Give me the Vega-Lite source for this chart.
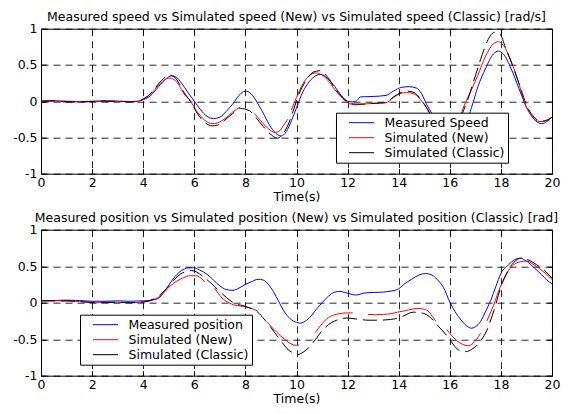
{
  "$schema": "https://vega.github.io/schema/vega-lite/v6.json",
  "padding": {"left": 12, "top": 10.7, "right": 4, "bottom": 2},
  "config": {
    "font": "DejaVu Sans",
    "view": {"stroke": "#000000", "strokeWidth": 1},
    "axis": {
      "grid": true, "gridColor": "#000000", "gridDash": [7, 5], "gridOpacity": 0.85, "gridWidth": 1,
      "domain": false, "ticks": true, "tickColor": "#000000", "tickSize": -5,
      "labelColor": "#000000", "labelFont": "DejaVu Sans", "labelFontSize": 12.5,
      "labelFlush": false, "labelOverlap": false,
      "titleColor": "#000000", "titleFont": "DejaVu Sans", "titleFontSize": 12.5, "titleFontWeight": "normal"
    },
    "axisX": {"labelPadding": 8, "titlePadding": 1},
    "axisY": {"labelPadding": 9},
    "title": {"font": "DejaVu Sans", "fontSize": 12.5, "fontWeight": "normal", "color": "#000000", "offset": -1},
    "legend": {
      "fillColor": "#ffffff", "strokeColor": "#000000", "padding": 2.5, "rowPadding": 0, "clipHeight": 15,
      "symbolType": "stroke", "symbolSize": 625, "symbolStrokeWidth": 1, "symbolOffset": 10,
      "labelFont": "DejaVu Sans", "labelFontSize": 12.5, "labelColor": "#000000", "labelOffset": 10,
      "title": null
    }
  },
  "spacing": 8,
  "resolve": {
    "scale": {"color": "independent"},
    "legend": {"color": "independent"}
  },
  "datasets": {
    "speed": [
      {"s": "Measured Speed", "t": 0, "v": 0}, {"s": "Measured Speed", "t": 0.5, "v": 0.005}, {"s": "Measured Speed", "t": 1, "v": 0},
      {"s": "Measured Speed", "t": 1.5, "v": -0.005}, {"s": "Measured Speed", "t": 2, "v": 0}, {"s": "Measured Speed", "t": 2.5, "v": 0.005},
      {"s": "Measured Speed", "t": 3, "v": 0}, {"s": "Measured Speed", "t": 3.5, "v": -0.005}, {"s": "Measured Speed", "t": 3.8, "v": 0},
      {"s": "Measured Speed", "t": 4, "v": 0.02}, {"s": "Measured Speed", "t": 4.3, "v": 0.08}, {"s": "Measured Speed", "t": 4.6, "v": 0.2},
      {"s": "Measured Speed", "t": 4.9, "v": 0.31}, {"s": "Measured Speed", "t": 5.1, "v": 0.35}, {"s": "Measured Speed", "t": 5.3, "v": 0.33},
      {"s": "Measured Speed", "t": 5.5, "v": 0.25}, {"s": "Measured Speed", "t": 5.75, "v": 0.12}, {"s": "Measured Speed", "t": 6, "v": 0},
      {"s": "Measured Speed", "t": 6.25, "v": -0.12}, {"s": "Measured Speed", "t": 6.5, "v": -0.21}, {"s": "Measured Speed", "t": 6.75, "v": -0.24},
      {"s": "Measured Speed", "t": 7, "v": -0.22}, {"s": "Measured Speed", "t": 7.25, "v": -0.14}, {"s": "Measured Speed", "t": 7.5, "v": -0.04},
      {"s": "Measured Speed", "t": 7.75, "v": 0.08}, {"s": "Measured Speed", "t": 8, "v": 0.14}, {"s": "Measured Speed", "t": 8.2, "v": 0.11},
      {"s": "Measured Speed", "t": 8.5, "v": -0.04}, {"s": "Measured Speed", "t": 8.75, "v": -0.2}, {"s": "Measured Speed", "t": 9, "v": -0.36},
      {"s": "Measured Speed", "t": 9.25, "v": -0.46}, {"s": "Measured Speed", "t": 9.4, "v": -0.48}, {"s": "Measured Speed", "t": 9.6, "v": -0.42},
      {"s": "Measured Speed", "t": 9.8, "v": -0.27}, {"s": "Measured Speed", "t": 10, "v": -0.09}, {"s": "Measured Speed", "t": 10.25, "v": 0.13},
      {"s": "Measured Speed", "t": 10.5, "v": 0.27}, {"s": "Measured Speed", "t": 10.75, "v": 0.35}, {"s": "Measured Speed", "t": 10.95, "v": 0.37},
      {"s": "Measured Speed", "t": 11.2, "v": 0.32}, {"s": "Measured Speed", "t": 11.5, "v": 0.2}, {"s": "Measured Speed", "t": 11.75, "v": 0.08},
      {"s": "Measured Speed", "t": 12, "v": 0}, {"s": "Measured Speed", "t": 12.2, "v": -0.01}, {"s": "Measured Speed", "t": 12.4, "v": 0.02},
      {"s": "Measured Speed", "t": 12.5, "v": 0.06}, {"s": "Measured Speed", "t": 13, "v": 0.065}, {"s": "Measured Speed", "t": 13.5, "v": 0.08},
      {"s": "Measured Speed", "t": 13.8, "v": 0.14}, {"s": "Measured Speed", "t": 14.1, "v": 0.19}, {"s": "Measured Speed", "t": 14.4, "v": 0.2},
      {"s": "Measured Speed", "t": 14.7, "v": 0.18}, {"s": "Measured Speed", "t": 14.9, "v": 0.1}, {"s": "Measured Speed", "t": 15.1, "v": -0.05},
      {"s": "Measured Speed", "t": 15.3, "v": -0.17}, {"s": "Measured Speed", "t": 15.6, "v": -0.4}, {"s": "Measured Speed", "t": 16, "v": -0.6},
      {"s": "Measured Speed", "t": 16.4, "v": -0.5}, {"s": "Measured Speed", "t": 16.7, "v": -0.25}, {"s": "Measured Speed", "t": 16.9, "v": -0.03},
      {"s": "Measured Speed", "t": 17.1, "v": 0.2}, {"s": "Measured Speed", "t": 17.4, "v": 0.45}, {"s": "Measured Speed", "t": 17.7, "v": 0.65},
      {"s": "Measured Speed", "t": 17.9, "v": 0.69}, {"s": "Measured Speed", "t": 18.1, "v": 0.65}, {"s": "Measured Speed", "t": 18.4, "v": 0.45},
      {"s": "Measured Speed", "t": 18.7, "v": 0.18}, {"s": "Measured Speed", "t": 19, "v": -0.08}, {"s": "Measured Speed", "t": 19.3, "v": -0.25},
      {"s": "Measured Speed", "t": 19.6, "v": -0.31}, {"s": "Measured Speed", "t": 19.8, "v": -0.28}, {"s": "Measured Speed", "t": 20, "v": -0.22},

      {"s": "Simulated (New)", "g": 1, "t": 0, "v": 0}, {"s": "Simulated (New)", "g": 1, "t": 0.5, "v": 0.005}, {"s": "Simulated (New)", "g": 1, "t": 1, "v": -0.01},
      {"s": "Simulated (New)", "g": 1, "t": 1.5, "v": -0.01}, {"s": "Simulated (New)", "g": 1, "t": 2, "v": -0.005}, {"s": "Simulated (New)", "g": 1, "t": 2.5, "v": 0},
      {"s": "Simulated (New)", "g": 1, "t": 3, "v": 0}, {"s": "Simulated (New)", "g": 1, "t": 3.5, "v": -0.01}, {"s": "Simulated (New)", "g": 1, "t": 3.8, "v": 0},
      {"s": "Simulated (New)", "g": 1, "t": 4, "v": 0.03}, {"s": "Simulated (New)", "g": 1, "t": 4.3, "v": 0.1}, {"s": "Simulated (New)", "g": 1, "t": 4.6, "v": 0.22},
      {"s": "Simulated (New)", "g": 1, "t": 4.85, "v": 0.3}, {"s": "Simulated (New)", "g": 1, "t": 5, "v": 0.32}, {"s": "Simulated (New)", "g": 1, "t": 5.2, "v": 0.3},
      {"s": "Simulated (New)", "g": 1, "t": 5.4, "v": 0.22}, {"s": "Simulated (New)", "g": 1, "t": 5.6, "v": 0.1}, {"s": "Simulated (New)", "g": 1, "t": 5.85, "v": 0},
      {"s": "Simulated (New)", "g": 1, "t": 6.1, "v": -0.14}, {"s": "Simulated (New)", "g": 1, "t": 6.4, "v": -0.26}, {"s": "Simulated (New)", "g": 1, "t": 6.7, "v": -0.31},
      {"s": "Simulated (New)", "g": 1, "t": 6.9, "v": -0.3}, {"s": "Simulated (New)", "g": 1, "t": 7.2, "v": -0.24}, {"s": "Simulated (New)", "g": 1, "t": 7.5, "v": -0.15},
      {"s": "Simulated (New)", "g": 1, "t": 7.8, "v": -0.08},
      {"s": "Simulated (New)", "g": 2, "t": 8.35, "v": -0.17}, {"s": "Simulated (New)", "g": 2, "t": 8.6, "v": -0.27}, {"s": "Simulated (New)", "g": 2, "t": 8.9, "v": -0.38},
      {"s": "Simulated (New)", "g": 2, "t": 9.15, "v": -0.43}, {"s": "Simulated (New)", "g": 2, "t": 9.3, "v": -0.42}, {"s": "Simulated (New)", "g": 2, "t": 9.5, "v": -0.33},
      {"s": "Simulated (New)", "g": 2, "t": 9.65, "v": -0.25},
      {"s": "Simulated (New)", "g": 3, "t": 9.8, "v": -0.12}, {"s": "Simulated (New)", "g": 3, "t": 10, "v": 0.05}, {"s": "Simulated (New)", "g": 3, "t": 10.25, "v": 0.24},
      {"s": "Simulated (New)", "g": 3, "t": 10.5, "v": 0.35}, {"s": "Simulated (New)", "g": 3, "t": 10.75, "v": 0.39}, {"s": "Simulated (New)", "g": 3, "t": 10.9, "v": 0.38},
      {"s": "Simulated (New)", "g": 3, "t": 11.2, "v": 0.3}, {"s": "Simulated (New)", "g": 3, "t": 11.5, "v": 0.16}, {"s": "Simulated (New)", "g": 3, "t": 11.8, "v": 0.04},
      {"s": "Simulated (New)", "g": 3, "t": 12, "v": -0.02}, {"s": "Simulated (New)", "g": 3, "t": 12.3, "v": -0.05}, {"s": "Simulated (New)", "g": 3, "t": 12.6, "v": -0.04},
      {"s": "Simulated (New)", "g": 3, "t": 13, "v": -0.03}, {"s": "Simulated (New)", "g": 3, "t": 13.5, "v": -0.02}, {"s": "Simulated (New)", "g": 3, "t": 13.8, "v": 0.05},
      {"s": "Simulated (New)", "g": 3, "t": 14.1, "v": 0.11}, {"s": "Simulated (New)", "g": 3, "t": 14.3, "v": 0.12}, {"s": "Simulated (New)", "g": 3, "t": 14.6, "v": 0.1},
      {"s": "Simulated (New)", "g": 3, "t": 14.9, "v": 0}, {"s": "Simulated (New)", "g": 3, "t": 15.2, "v": -0.15}, {"s": "Simulated (New)", "g": 3, "t": 15.6, "v": -0.45},
      {"s": "Simulated (New)", "g": 3, "t": 16, "v": -0.55}, {"s": "Simulated (New)", "g": 3, "t": 16.3, "v": -0.35}, {"s": "Simulated (New)", "g": 3, "t": 16.5, "v": -0.12},
      {"s": "Simulated (New)", "g": 3, "t": 16.8, "v": 0.12}, {"s": "Simulated (New)", "g": 3, "t": 17.1, "v": 0.36}, {"s": "Simulated (New)", "g": 3, "t": 17.4, "v": 0.62},
      {"s": "Simulated (New)", "g": 3, "t": 17.7, "v": 0.79}, {"s": "Simulated (New)", "g": 3, "t": 17.9, "v": 0.82}, {"s": "Simulated (New)", "g": 3, "t": 18.1, "v": 0.77},
      {"s": "Simulated (New)", "g": 3, "t": 18.4, "v": 0.55}, {"s": "Simulated (New)", "g": 3, "t": 18.7, "v": 0.25}, {"s": "Simulated (New)", "g": 3, "t": 18.9, "v": 0},
      {"s": "Simulated (New)", "g": 3, "t": 19.2, "v": -0.2}, {"s": "Simulated (New)", "g": 3, "t": 19.5, "v": -0.28}, {"s": "Simulated (New)", "g": 3, "t": 19.8, "v": -0.27},
      {"s": "Simulated (New)", "g": 3, "t": 20, "v": -0.22},

      {"s": "Simulated (Classic)", "t": 0, "v": 0}, {"s": "Simulated (Classic)", "t": 0.5, "v": 0.005}, {"s": "Simulated (Classic)", "t": 1, "v": -0.01},
      {"s": "Simulated (Classic)", "t": 1.5, "v": -0.01}, {"s": "Simulated (Classic)", "t": 2, "v": -0.005}, {"s": "Simulated (Classic)", "t": 2.5, "v": 0},
      {"s": "Simulated (Classic)", "t": 3, "v": 0}, {"s": "Simulated (Classic)", "t": 3.5, "v": -0.01}, {"s": "Simulated (Classic)", "t": 3.8, "v": 0},
      {"s": "Simulated (Classic)", "t": 4, "v": 0.03}, {"s": "Simulated (Classic)", "t": 4.3, "v": 0.11}, {"s": "Simulated (Classic)", "t": 4.6, "v": 0.24},
      {"s": "Simulated (Classic)", "t": 4.85, "v": 0.33}, {"s": "Simulated (Classic)", "t": 5, "v": 0.36}, {"s": "Simulated (Classic)", "t": 5.2, "v": 0.34},
      {"s": "Simulated (Classic)", "t": 5.4, "v": 0.25}, {"s": "Simulated (Classic)", "t": 5.6, "v": 0.12}, {"s": "Simulated (Classic)", "t": 5.85, "v": 0},
      {"s": "Simulated (Classic)", "t": 6.1, "v": -0.16}, {"s": "Simulated (Classic)", "t": 6.4, "v": -0.29}, {"s": "Simulated (Classic)", "t": 6.7, "v": -0.34},
      {"s": "Simulated (Classic)", "t": 6.9, "v": -0.33}, {"s": "Simulated (Classic)", "t": 7.2, "v": -0.26}, {"s": "Simulated (Classic)", "t": 7.5, "v": -0.17},
      {"s": "Simulated (Classic)", "t": 7.8, "v": -0.1}, {"s": "Simulated (Classic)", "t": 8.15, "v": -0.13}, {"s": "Simulated (Classic)", "t": 8.4, "v": -0.22},
      {"s": "Simulated (Classic)", "t": 8.7, "v": -0.35}, {"s": "Simulated (Classic)", "t": 9, "v": -0.46}, {"s": "Simulated (Classic)", "t": 9.25, "v": -0.51},
      {"s": "Simulated (Classic)", "t": 9.45, "v": -0.46}, {"s": "Simulated (Classic)", "t": 9.7, "v": -0.3}, {"s": "Simulated (Classic)", "t": 9.9, "v": -0.1},
      {"s": "Simulated (Classic)", "t": 10.1, "v": 0.1}, {"s": "Simulated (Classic)", "t": 10.4, "v": 0.3}, {"s": "Simulated (Classic)", "t": 10.65, "v": 0.4},
      {"s": "Simulated (Classic)", "t": 10.9, "v": 0.42}, {"s": "Simulated (Classic)", "t": 11.2, "v": 0.34}, {"s": "Simulated (Classic)", "t": 11.5, "v": 0.18},
      {"s": "Simulated (Classic)", "t": 11.8, "v": 0.05}, {"s": "Simulated (Classic)", "t": 12, "v": -0.01}, {"s": "Simulated (Classic)", "t": 12.3, "v": -0.04},
      {"s": "Simulated (Classic)", "t": 12.6, "v": -0.04}, {"s": "Simulated (Classic)", "t": 13, "v": -0.03}, {"s": "Simulated (Classic)", "t": 13.5, "v": -0.02},
      {"s": "Simulated (Classic)", "t": 13.8, "v": 0.06}, {"s": "Simulated (Classic)", "t": 14.1, "v": 0.12}, {"s": "Simulated (Classic)", "t": 14.3, "v": 0.14},
      {"s": "Simulated (Classic)", "t": 14.6, "v": 0.12}, {"s": "Simulated (Classic)", "t": 14.9, "v": 0.01}, {"s": "Simulated (Classic)", "t": 15.2, "v": -0.16},
      {"s": "Simulated (Classic)", "t": 15.6, "v": -0.5}, {"s": "Simulated (Classic)", "t": 16, "v": -0.6}, {"s": "Simulated (Classic)", "t": 16.4, "v": -0.25},
      {"s": "Simulated (Classic)", "t": 16.7, "v": 0.02}, {"s": "Simulated (Classic)", "t": 17, "v": 0.35}, {"s": "Simulated (Classic)", "t": 17.2, "v": 0.57},
      {"s": "Simulated (Classic)", "t": 17.5, "v": 0.85}, {"s": "Simulated (Classic)", "t": 17.75, "v": 0.95}, {"s": "Simulated (Classic)", "t": 17.95, "v": 0.93},
      {"s": "Simulated (Classic)", "t": 18.2, "v": 0.72}, {"s": "Simulated (Classic)", "t": 18.5, "v": 0.45}, {"s": "Simulated (Classic)", "t": 18.8, "v": 0.15},
      {"s": "Simulated (Classic)", "t": 19, "v": -0.05}, {"s": "Simulated (Classic)", "t": 19.3, "v": -0.22}, {"s": "Simulated (Classic)", "t": 19.55, "v": -0.28},
      {"s": "Simulated (Classic)", "t": 19.8, "v": -0.26}, {"s": "Simulated (Classic)", "t": 20, "v": -0.22}
    ],
    "position": [
      {"s": "Measured position", "t": 0, "v": 0.03}, {"s": "Measured position", "t": 0.5, "v": 0.03}, {"s": "Measured position", "t": 1, "v": 0.035},
      {"s": "Measured position", "t": 1.5, "v": 0.03}, {"s": "Measured position", "t": 2, "v": 0.02}, {"s": "Measured position", "t": 2.5, "v": 0.02},
      {"s": "Measured position", "t": 3, "v": 0.025}, {"s": "Measured position", "t": 3.5, "v": 0.02}, {"s": "Measured position", "t": 4, "v": 0.025},
      {"s": "Measured position", "t": 4.4, "v": 0.04}, {"s": "Measured position", "t": 4.6, "v": 0.06}, {"s": "Measured position", "t": 4.8, "v": 0.14},
      {"s": "Measured position", "t": 5, "v": 0.24}, {"s": "Measured position", "t": 5.25, "v": 0.36}, {"s": "Measured position", "t": 5.5, "v": 0.44},
      {"s": "Measured position", "t": 5.75, "v": 0.475}, {"s": "Measured position", "t": 5.95, "v": 0.48}, {"s": "Measured position", "t": 6.2, "v": 0.45},
      {"s": "Measured position", "t": 6.5, "v": 0.39}, {"s": "Measured position", "t": 6.75, "v": 0.31}, {"s": "Measured position", "t": 7, "v": 0.23},
      {"s": "Measured position", "t": 7.25, "v": 0.18}, {"s": "Measured position", "t": 7.5, "v": 0.17}, {"s": "Measured position", "t": 7.75, "v": 0.2},
      {"s": "Measured position", "t": 8, "v": 0.25}, {"s": "Measured position", "t": 8.25, "v": 0.29}, {"s": "Measured position", "t": 8.5, "v": 0.32},
      {"s": "Measured position", "t": 8.7, "v": 0.31}, {"s": "Measured position", "t": 8.9, "v": 0.25}, {"s": "Measured position", "t": 9.1, "v": 0.15},
      {"s": "Measured position", "t": 9.3, "v": 0.02}, {"s": "Measured position", "t": 9.5, "v": -0.11}, {"s": "Measured position", "t": 9.75, "v": -0.22},
      {"s": "Measured position", "t": 10, "v": -0.27}, {"s": "Measured position", "t": 10.15, "v": -0.28}, {"s": "Measured position", "t": 10.4, "v": -0.24},
      {"s": "Measured position", "t": 10.6, "v": -0.17}, {"s": "Measured position", "t": 10.8, "v": -0.08}, {"s": "Measured position", "t": 11, "v": 0},
      {"s": "Measured position", "t": 11.25, "v": 0.09}, {"s": "Measured position", "t": 11.5, "v": 0.145}, {"s": "Measured position", "t": 11.7, "v": 0.155},
      {"s": "Measured position", "t": 11.9, "v": 0.14}, {"s": "Measured position", "t": 12.1, "v": 0.12}, {"s": "Measured position", "t": 12.3, "v": 0.105},
      {"s": "Measured position", "t": 12.45, "v": 0.11}, {"s": "Measured position", "t": 12.6, "v": 0.13}, {"s": "Measured position", "t": 13, "v": 0.14},
      {"s": "Measured position", "t": 13.4, "v": 0.145}, {"s": "Measured position", "t": 13.7, "v": 0.16}, {"s": "Measured position", "t": 13.95, "v": 0.18},
      {"s": "Measured position", "t": 14.2, "v": 0.25}, {"s": "Measured position", "t": 14.5, "v": 0.32}, {"s": "Measured position", "t": 14.8, "v": 0.38},
      {"s": "Measured position", "t": 15.05, "v": 0.4}, {"s": "Measured position", "t": 15.3, "v": 0.38}, {"s": "Measured position", "t": 15.5, "v": 0.32},
      {"s": "Measured position", "t": 15.75, "v": 0.21}, {"s": "Measured position", "t": 16, "v": 0.01}, {"s": "Measured position", "t": 16.2, "v": -0.12},
      {"s": "Measured position", "t": 16.4, "v": -0.22}, {"s": "Measured position", "t": 16.6, "v": -0.3}, {"s": "Measured position", "t": 16.85, "v": -0.35},
      {"s": "Measured position", "t": 17, "v": -0.33}, {"s": "Measured position", "t": 17.2, "v": -0.26}, {"s": "Measured position", "t": 17.4, "v": -0.12},
      {"s": "Measured position", "t": 17.6, "v": 0.03}, {"s": "Measured position", "t": 17.8, "v": 0.22}, {"s": "Measured position", "t": 18, "v": 0.4},
      {"s": "Measured position", "t": 18.3, "v": 0.52}, {"s": "Measured position", "t": 18.55, "v": 0.59}, {"s": "Measured position", "t": 18.75, "v": 0.61},
      {"s": "Measured position", "t": 19, "v": 0.57}, {"s": "Measured position", "t": 19.3, "v": 0.48}, {"s": "Measured position", "t": 19.6, "v": 0.38},
      {"s": "Measured position", "t": 19.8, "v": 0.31}, {"s": "Measured position", "t": 20, "v": 0.26},

      {"s": "Simulated (New)", "g": 1, "t": 0, "v": 0.025}, {"s": "Simulated (New)", "g": 1, "t": 0.5, "v": 0.025}, {"s": "Simulated (New)", "g": 1, "t": 1, "v": 0.025},
      {"s": "Simulated (New)", "g": 1, "t": 1.5, "v": 0.015}, {"s": "Simulated (New)", "g": 1, "t": 2, "v": 0.005}, {"s": "Simulated (New)", "g": 1, "t": 2.5, "v": 0.005},
      {"s": "Simulated (New)", "g": 1, "t": 3, "v": 0.005}, {"s": "Simulated (New)", "g": 1, "t": 3.5, "v": 0}, {"s": "Simulated (New)", "g": 1, "t": 4, "v": 0.01},
      {"s": "Simulated (New)", "g": 1, "t": 4.4, "v": 0.04}, {"s": "Simulated (New)", "g": 1, "t": 4.7, "v": 0.1}, {"s": "Simulated (New)", "g": 1, "t": 4.95, "v": 0.19},
      {"s": "Simulated (New)", "g": 1, "t": 5.2, "v": 0.27}, {"s": "Simulated (New)", "g": 1, "t": 5.45, "v": 0.32}, {"s": "Simulated (New)", "g": 1, "t": 5.7, "v": 0.36},
      {"s": "Simulated (New)", "g": 1, "t": 5.85, "v": 0.37}, {"s": "Simulated (New)", "g": 1, "t": 6.05, "v": 0.37}, {"s": "Simulated (New)", "g": 1, "t": 6.25, "v": 0.34},
      {"s": "Simulated (New)", "g": 1, "t": 6.42, "v": 0.28},
      {"s": "Simulated (New)", "g": 2, "t": 6.8, "v": 0.2}, {"s": "Simulated (New)", "g": 2, "t": 6.95, "v": 0.12}, {"s": "Simulated (New)", "g": 2, "t": 7.13, "v": 0.05},
      {"s": "Simulated (New)", "g": 2, "t": 7.35, "v": 0}, {"s": "Simulated (New)", "g": 2, "t": 7.55, "v": -0.03}, {"s": "Simulated (New)", "g": 2, "t": 7.8, "v": -0.045},
      {"s": "Simulated (New)", "g": 2, "t": 8.05, "v": -0.06}, {"s": "Simulated (New)", "g": 2, "t": 8.25, "v": -0.08}, {"s": "Simulated (New)", "g": 2, "t": 8.45, "v": -0.11},
      {"s": "Simulated (New)", "g": 3, "t": 8.85, "v": -0.27}, {"s": "Simulated (New)", "g": 3, "t": 9.1, "v": -0.36}, {"s": "Simulated (New)", "g": 3, "t": 9.36, "v": -0.45},
      {"s": "Simulated (New)", "g": 3, "t": 9.6, "v": -0.52}, {"s": "Simulated (New)", "g": 3, "t": 9.82, "v": -0.57}, {"s": "Simulated (New)", "g": 3, "t": 10, "v": -0.585},
      {"s": "Simulated (New)", "g": 3, "t": 10.1, "v": -0.58},
      {"s": "Simulated (New)", "g": 4, "t": 10.73, "v": -0.41}, {"s": "Simulated (New)", "g": 4, "t": 10.95, "v": -0.31}, {"s": "Simulated (New)", "g": 4, "t": 11.19, "v": -0.22},
      {"s": "Simulated (New)", "g": 4, "t": 11.45, "v": -0.17}, {"s": "Simulated (New)", "g": 4, "t": 11.7, "v": -0.15}, {"s": "Simulated (New)", "g": 4, "t": 11.95, "v": -0.14},
      {"s": "Simulated (New)", "g": 4, "t": 12.2, "v": -0.14},
      {"s": "Simulated (New)", "g": 5, "t": 12.8, "v": -0.16}, {"s": "Simulated (New)", "g": 5, "t": 13.1, "v": -0.165}, {"s": "Simulated (New)", "g": 5, "t": 13.4, "v": -0.16},
      {"s": "Simulated (New)", "g": 5, "t": 13.7, "v": -0.15}, {"s": "Simulated (New)", "g": 5, "t": 13.95, "v": -0.13}, {"s": "Simulated (New)", "g": 5, "t": 14.25, "v": -0.11},
      {"s": "Simulated (New)", "g": 5, "t": 14.5, "v": -0.09}, {"s": "Simulated (New)", "g": 5, "t": 14.77, "v": -0.08}, {"s": "Simulated (New)", "g": 5, "t": 15, "v": -0.09},
      {"s": "Simulated (New)", "g": 5, "t": 15.2, "v": -0.13}, {"s": "Simulated (New)", "g": 5, "t": 15.32, "v": -0.19}, {"s": "Simulated (New)", "g": 5, "t": 15.45, "v": -0.25},
      {"s": "Simulated (New)", "g": 6, "t": 15.88, "v": -0.37}, {"s": "Simulated (New)", "g": 6, "t": 16.05, "v": -0.44}, {"s": "Simulated (New)", "g": 6, "t": 16.27, "v": -0.52},
      {"s": "Simulated (New)", "g": 6, "t": 16.5, "v": -0.57}, {"s": "Simulated (New)", "g": 6, "t": 16.7, "v": -0.59}, {"s": "Simulated (New)", "g": 6, "t": 16.9, "v": -0.56},
      {"s": "Simulated (New)", "g": 6, "t": 17.05, "v": -0.5}, {"s": "Simulated (New)", "g": 6, "t": 17.2, "v": -0.42},
      {"s": "Simulated (New)", "g": 7, "t": 17.45, "v": -0.25}, {"s": "Simulated (New)", "g": 7, "t": 17.6, "v": -0.13}, {"s": "Simulated (New)", "g": 7, "t": 17.71, "v": -0.04},
      {"s": "Simulated (New)", "g": 7, "t": 17.85, "v": 0.1}, {"s": "Simulated (New)", "g": 7, "t": 17.97, "v": 0.21}, {"s": "Simulated (New)", "g": 7, "t": 18.15, "v": 0.34},
      {"s": "Simulated (New)", "g": 7, "t": 18.3, "v": 0.44}, {"s": "Simulated (New)", "g": 7, "t": 18.5, "v": 0.52}, {"s": "Simulated (New)", "g": 7, "t": 18.75, "v": 0.56},
      {"s": "Simulated (New)", "g": 7, "t": 19, "v": 0.57}, {"s": "Simulated (New)", "g": 7, "t": 19.25, "v": 0.53}, {"s": "Simulated (New)", "g": 7, "t": 19.5, "v": 0.47},
      {"s": "Simulated (New)", "g": 7, "t": 19.75, "v": 0.4}, {"s": "Simulated (New)", "g": 7, "t": 20, "v": 0.32},

      {"s": "Simulated (Classic)", "t": 0, "v": 0.025}, {"s": "Simulated (Classic)", "t": 0.5, "v": 0.025}, {"s": "Simulated (Classic)", "t": 1, "v": 0.025},
      {"s": "Simulated (Classic)", "t": 1.5, "v": 0.015}, {"s": "Simulated (Classic)", "t": 2, "v": 0.005}, {"s": "Simulated (Classic)", "t": 2.5, "v": 0.005},
      {"s": "Simulated (Classic)", "t": 3, "v": 0.005}, {"s": "Simulated (Classic)", "t": 3.5, "v": 0}, {"s": "Simulated (Classic)", "t": 4, "v": 0.01},
      {"s": "Simulated (Classic)", "t": 4.4, "v": 0.05}, {"s": "Simulated (Classic)", "t": 4.7, "v": 0.12}, {"s": "Simulated (Classic)", "t": 4.95, "v": 0.21},
      {"s": "Simulated (Classic)", "t": 5.2, "v": 0.31}, {"s": "Simulated (Classic)", "t": 5.45, "v": 0.39}, {"s": "Simulated (Classic)", "t": 5.7, "v": 0.43},
      {"s": "Simulated (Classic)", "t": 5.9, "v": 0.44}, {"s": "Simulated (Classic)", "t": 6.1, "v": 0.42}, {"s": "Simulated (Classic)", "t": 6.3, "v": 0.37},
      {"s": "Simulated (Classic)", "t": 6.55, "v": 0.3}, {"s": "Simulated (Classic)", "t": 6.8, "v": 0.22}, {"s": "Simulated (Classic)", "t": 7.1, "v": 0.12},
      {"s": "Simulated (Classic)", "t": 7.4, "v": 0.03}, {"s": "Simulated (Classic)", "t": 7.65, "v": -0.02}, {"s": "Simulated (Classic)", "t": 7.9, "v": -0.04},
      {"s": "Simulated (Classic)", "t": 8.15, "v": -0.07}, {"s": "Simulated (Classic)", "t": 8.45, "v": -0.12}, {"s": "Simulated (Classic)", "t": 8.77, "v": -0.24},
      {"s": "Simulated (Classic)", "t": 9, "v": -0.34}, {"s": "Simulated (Classic)", "t": 9.23, "v": -0.45}, {"s": "Simulated (Classic)", "t": 9.45, "v": -0.55},
      {"s": "Simulated (Classic)", "t": 9.69, "v": -0.65}, {"s": "Simulated (Classic)", "t": 9.9, "v": -0.69}, {"s": "Simulated (Classic)", "t": 10.05, "v": -0.71},
      {"s": "Simulated (Classic)", "t": 10.25, "v": -0.68}, {"s": "Simulated (Classic)", "t": 10.47, "v": -0.62}, {"s": "Simulated (Classic)", "t": 10.75, "v": -0.5},
      {"s": "Simulated (Classic)", "t": 10.99, "v": -0.39}, {"s": "Simulated (Classic)", "t": 11.25, "v": -0.3}, {"s": "Simulated (Classic)", "t": 11.5, "v": -0.25},
      {"s": "Simulated (Classic)", "t": 11.75, "v": -0.22}, {"s": "Simulated (Classic)", "t": 11.97, "v": -0.21}, {"s": "Simulated (Classic)", "t": 12.25, "v": -0.22},
      {"s": "Simulated (Classic)", "t": 12.5, "v": -0.23}, {"s": "Simulated (Classic)", "t": 12.8, "v": -0.24}, {"s": "Simulated (Classic)", "t": 13.14, "v": -0.24},
      {"s": "Simulated (Classic)", "t": 13.5, "v": -0.235}, {"s": "Simulated (Classic)", "t": 13.86, "v": -0.22}, {"s": "Simulated (Classic)", "t": 14.2, "v": -0.18},
      {"s": "Simulated (Classic)", "t": 14.57, "v": -0.13}, {"s": "Simulated (Classic)", "t": 14.9, "v": -0.14}, {"s": "Simulated (Classic)", "t": 15.23, "v": -0.2},
      {"s": "Simulated (Classic)", "t": 15.42, "v": -0.27}, {"s": "Simulated (Classic)", "t": 15.65, "v": -0.36}, {"s": "Simulated (Classic)", "t": 15.88, "v": -0.45},
      {"s": "Simulated (Classic)", "t": 16.05, "v": -0.53}, {"s": "Simulated (Classic)", "t": 16.2, "v": -0.6}, {"s": "Simulated (Classic)", "t": 16.4, "v": -0.66},
      {"s": "Simulated (Classic)", "t": 16.65, "v": -0.67}, {"s": "Simulated (Classic)", "t": 16.85, "v": -0.64}, {"s": "Simulated (Classic)", "t": 17.05, "v": -0.59},
      {"s": "Simulated (Classic)", "t": 17.25, "v": -0.5}, {"s": "Simulated (Classic)", "t": 17.45, "v": -0.38}, {"s": "Simulated (Classic)", "t": 17.62, "v": -0.22},
      {"s": "Simulated (Classic)", "t": 17.77, "v": -0.06}, {"s": "Simulated (Classic)", "t": 17.9, "v": 0.1}, {"s": "Simulated (Classic)", "t": 18.04, "v": 0.26},
      {"s": "Simulated (Classic)", "t": 18.25, "v": 0.42}, {"s": "Simulated (Classic)", "t": 18.5, "v": 0.55}, {"s": "Simulated (Classic)", "t": 18.8, "v": 0.61},
      {"s": "Simulated (Classic)", "t": 19.1, "v": 0.58}, {"s": "Simulated (Classic)", "t": 19.4, "v": 0.52}, {"s": "Simulated (Classic)", "t": 19.7, "v": 0.44},
      {"s": "Simulated (Classic)", "t": 20, "v": 0.34}
    ]
  },
  "vconcat": [
    {
      "title": {"text": "Measured speed vs Simulated speed (New) vs Simulated speed (Classic) [rad/s]"},
      "width": 511,
      "height": 145,
      "data": {"name": "speed"},
      "encoding": {
        "x": {"field": "t", "type": "quantitative", "scale": {"domain": [0, 20], "nice": false},
              "axis": {"values": [0, 2, 4, 6, 8, 10, 12, 14, 16, 18, 20], "title": "Time(s)"}},
        "y": {"field": "v", "type": "quantitative", "scale": {"domain": [-1, 1], "nice": false},
              "axis": {"values": [-1, -0.5, 0, 0.5, 1], "title": null, "labelExpr": "'' + datum.value"}},
        "color": {"field": "s", "type": "nominal",
                  "scale": {"domain": ["Measured Speed", "Simulated (New)", "Simulated (Classic)"], "range": ["#0000ff", "#ff0000", "#000000"]},
                  "legend": {"orient": "none", "legendX": 295, "legendY": 84}}
      },
      "layer": [
        {
          "transform": [{"filter": "datum.s !== 'Simulated (Classic)'"}],
          "mark": {"type": "line", "strokeWidth": 1, "interpolate": "monotone"},
          "encoding": {"detail": {"field": "g", "type": "nominal"}}
        },
        {
          "transform": [{"filter": "datum.s === 'Simulated (Classic)'"}],
          "mark": {"type": "line", "strokeWidth": 1, "interpolate": "monotone", "strokeDash": [14, 6]},
          "encoding": {
            "x": {"field": "t", "type": "quantitative",
                  "axis": {"orient": "top", "values": [0, 2, 4, 6, 8, 10, 12, 14, 16, 18, 20], "labels": false, "grid": false, "title": null}},
            "y": {"field": "v", "type": "quantitative",
                  "axis": {"orient": "right", "values": [-1, -0.5, 0, 0.5, 1], "labels": false, "grid": false, "title": null}}
          }
        }
      ],
      "resolve": {"axis": {"x": "independent", "y": "independent"}}
    },
    {
      "title": {"text": "Measured position vs Simulated position (New) vs Simulated position (Classic) [rad]"},
      "width": 511,
      "height": 146,
      "data": {"name": "position"},
      "encoding": {
        "x": {"field": "t", "type": "quantitative", "scale": {"domain": [0, 20], "nice": false},
              "axis": {"values": [0, 2, 4, 6, 8, 10, 12, 14, 16, 18, 20], "title": "Time(s)"}},
        "y": {"field": "v", "type": "quantitative", "scale": {"domain": [-1, 1], "nice": false},
              "axis": {"values": [-1, -0.5, 0, 0.5, 1], "title": null, "labelExpr": "'' + datum.value"}},
        "color": {"field": "s", "type": "nominal",
                  "scale": {"domain": ["Measured position", "Simulated (New)", "Simulated (Classic)"], "range": ["#0000ff", "#ff0000", "#000000"]},
                  "legend": {"orient": "none", "legendX": 39, "legendY": 85}}
      },
      "layer": [
        {
          "transform": [{"filter": "datum.s !== 'Simulated (Classic)'"}],
          "mark": {"type": "line", "strokeWidth": 1, "interpolate": "monotone"},
          "encoding": {"detail": {"field": "g", "type": "nominal"}}
        },
        {
          "transform": [{"filter": "datum.s === 'Simulated (Classic)'"}],
          "mark": {"type": "line", "strokeWidth": 1, "interpolate": "monotone", "strokeDash": [14, 6]},
          "encoding": {
            "x": {"field": "t", "type": "quantitative",
                  "axis": {"orient": "top", "values": [0, 2, 4, 6, 8, 10, 12, 14, 16, 18, 20], "labels": false, "grid": false, "title": null}},
            "y": {"field": "v", "type": "quantitative",
                  "axis": {"orient": "right", "values": [-1, -0.5, 0, 0.5, 1], "labels": false, "grid": false, "title": null}}
          }
        }
      ],
      "resolve": {"axis": {"x": "independent", "y": "independent"}}
    }
  ]
}
